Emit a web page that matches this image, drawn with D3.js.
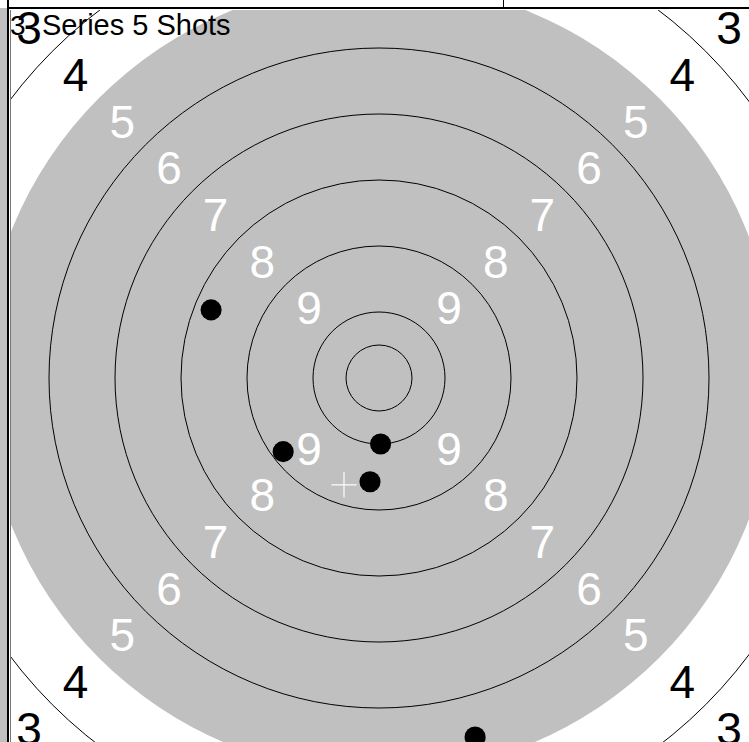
<!DOCTYPE html>
<html>
<head>
<meta charset="utf-8">
<script src="https://cdn.jsdelivr.net/npm/d3@7"></script>
<style>
  body { margin: 0; background: #fff; }
  svg { display: block; font-family: "Liberation Sans", Arial, sans-serif; }
</style>
</head>
<body>
<svg id="alvo" width="749" height="742"></svg>
<script>
// ring data (mm, radius of outer edge of each ring)
let aneis = [10, 9, 8, 7, 6, 5, 4, 3, 2, 1];
let raios = [25, 50, 75, 100, 125, 150, 175, 200, 225, 250];
let raioX = 12.5;          // inner ten
let raioPreto = 150;       // grey aiming area (rings 5-10)
let rotulos = [9, 8, 7, 6, 5, 4, 3];

// shots (mm from centre, y up)
let tiroX = [-63.6, -36.3, 0.6, -3.4, 36.4];
let tiroY = [25.8, -27.9, -25.0, -39.3, -136.0];
let calibre = 4;
let titulo = 'Series 5 Shots';
let contagem = '3';

let svg = d3.select('#alvo');
let largura = +svg.attr('width');
let altura = +svg.attr('height');

let cx = 379, cy = 378, escala = 2.64;

let fnx = d3.scaleLinear().domain([-1, 1]).range([cx - escala, cx + escala]);
let fny = d3.scaleLinear().domain([-1, 1]).range([cy + escala, cy - escala]);
let fnr = d3.scaleLinear().domain([0, 1]).range([0, escala]);

// neighbouring panel strip on the left
svg.append('rect').attr('x', 0).attr('y', 8).attr('width', 8).attr('height', altura - 8)
    .attr('fill', '#c0c0c0');

svg.append('clipPath').attr('id', 'recorte')
    .append('rect').attr('x', 11).attr('y', 10).attr('width', largura - 11).attr('height', altura - 10);

let plot = svg.append('g').attr('clip-path', 'url(#recorte)');

plot.append('rect').attr('x', 11).attr('y', 10).attr('width', largura - 11).attr('height', altura - 10)
    .attr('fill', '#fff');

plot.append('circle')
    .attr('cx', fnx(0)).attr('cy', fny(0)).attr('r', fnr(raioPreto))
    .attr('fill', '#c0c0c0');

plot.selectAll('.anel')
    .data(raios.concat([raioX]))
    .join('circle')
    .attr('class', 'anel')
    .attr('cx', fnx(0)).attr('cy', fny(0))
    .attr('r', d => fnr(d))
    .attr('fill', 'none')
    .attr('stroke', d => d === raioPreto ? 'none' : '#000')
    .attr('stroke-width', 1);

// ring numbers on the four diagonals
let cantos = [[-1, -1], [1, -1], [-1, 1], [1, 1]];
let rotDados = [];
rotulos.forEach(v => {
  let r = raios[aneis.indexOf(v)] - 12.5;
  cantos.forEach(c => rotDados.push({ v: v, x: c[0] * r / Math.SQRT2, y: c[1] * r / Math.SQRT2, r: r }));
});

plot.selectAll('.rotulo')
    .data(rotDados)
    .join('text')
    .attr('class', 'rotulo')
    .attr('x', d => fnx(d.x))
    .attr('y', d => fny(d.y))
    .attr('dy', 16.5)
    .attr('text-anchor', 'middle')
    .attr('font-size', 46)
    .attr('fill', d => d.r < raioPreto ? '#fff' : '#000')
    .text(d => d.v);

plot.selectAll('.tiro')
    .data(tiroX)
    .join('circle')
    .attr('class', 'tiro')
    .attr('cx', d => fnx(d))
    .attr('cy', (d, i) => fny(tiroY[i]))
    .attr('r', fnr(calibre))
    .attr('fill', '#000');

// mean point of impact
let mx = d3.mean(tiroX), my = d3.mean(tiroY);
let braco = 4.8;
plot.append('line')
    .attr('x1', fnx(mx - braco)).attr('x2', fnx(mx + braco))
    .attr('y1', fny(my)).attr('y2', fny(my))
    .attr('stroke', '#fff').attr('stroke-width', 1.2);
plot.append('line')
    .attr('x1', fnx(mx)).attr('x2', fnx(mx))
    .attr('y1', fny(my - braco)).attr('y2', fny(my + braco))
    .attr('stroke', '#fff').attr('stroke-width', 1.2);
plot.selectAll('.tiro').raise();

// title
svg.append('text').attr('x', 10).attr('y', 35).attr('font-size', 28).text(contagem);
svg.append('text').attr('x', 42).attr('y', 35).attr('font-size', 29).text(titulo);

// panel frames
svg.append('line').attr('x1', 8).attr('x2', 8).attr('y1', 0).attr('y2', altura)
    .attr('stroke', '#000').attr('stroke-width', 2);
svg.append('line').attr('x1', 8).attr('x2', largura).attr('y1', 8).attr('y2', 8)
    .attr('stroke', '#000').attr('stroke-width', 2);
svg.append('line').attr('x1', 503.5).attr('x2', 503.5).attr('y1', 0).attr('y2', 8)
    .attr('stroke', '#000').attr('stroke-width', 1);
svg.append('line').attr('x1', 10.5).attr('x2', 10.5).attr('y1', 10).attr('y2', altura)
    .attr('stroke', '#777').attr('stroke-width', 1);
</script>
</body>
</html>
